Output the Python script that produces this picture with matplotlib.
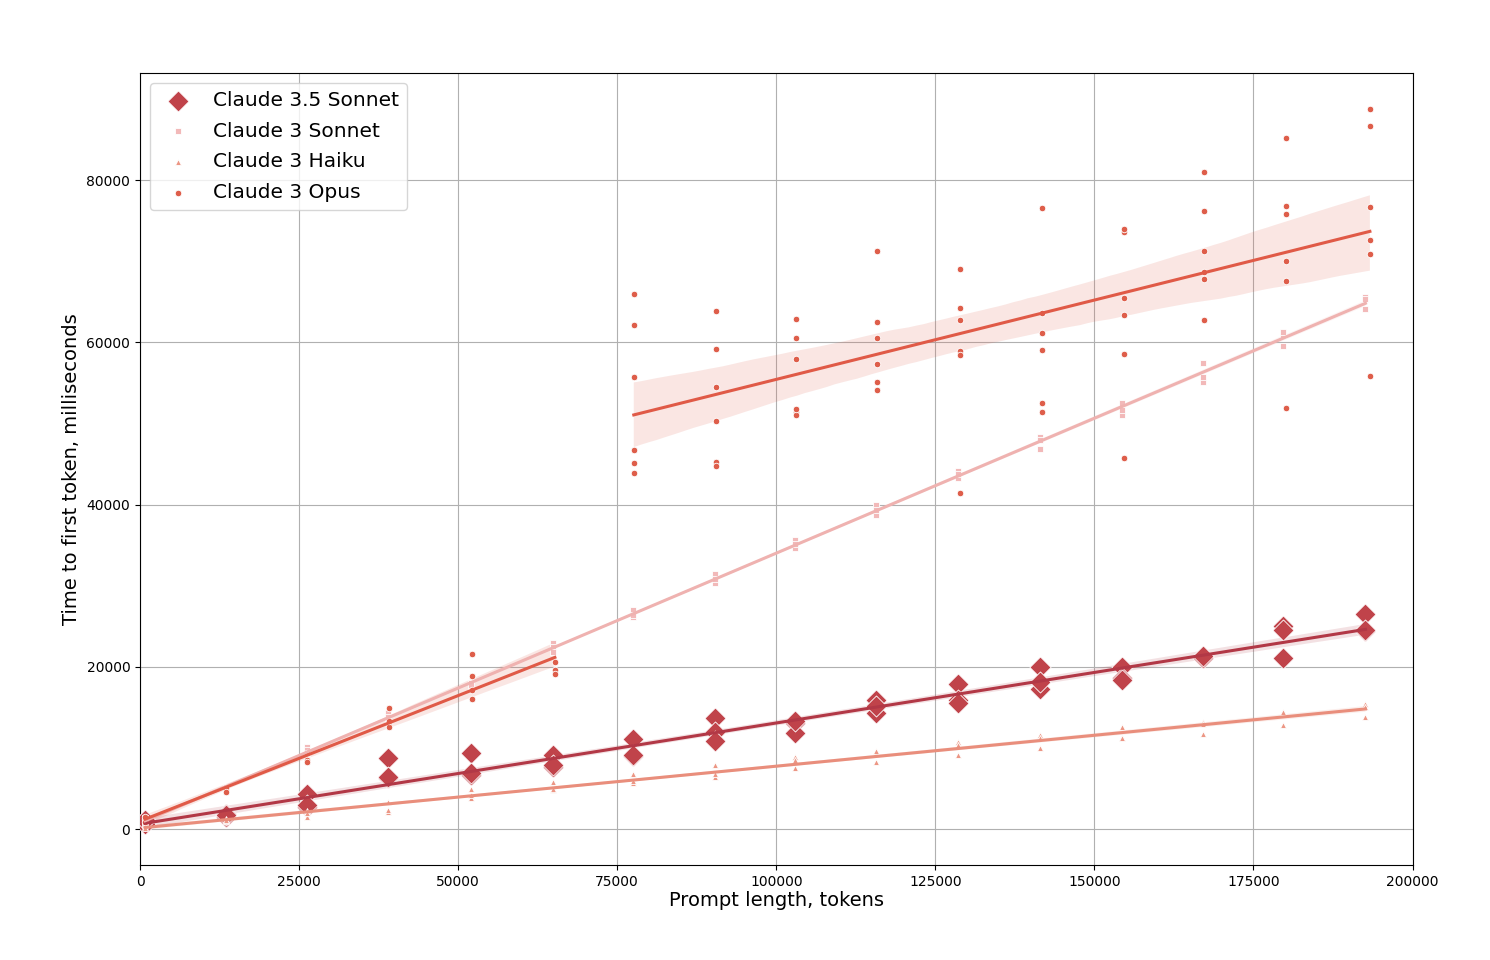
import numpy as np
import matplotlib as mpl
mpl.use('Agg')
import matplotlib.pyplot as plt
import seaborn as sns

# prompt lengths the runs were grouped at
prompt_len = [800, 13500, 26300, 38900, 52000, 64900, 77400, 90400,
              102900, 115700, 128500, 141400, 154300, 167000, 179700, 192600]

# time to first token, ms (a few runs per prompt length)
sonnet35_ms = [[1000, 700, 1200], [1500, 1900, 1700], [4400, 2700, 3000],
               [8800, 6300, 6500], [9400, 6700, 6900], [9100, 7700, 7900],
               [11100, 9000, 9200], [13700, 12000, 10900], [13100, 11900, 13300],
               [15900, 14300, 15200], [17900, 15900, 15600], [20000, 17300, 18100],
               [20000, 18600, 18400], [21200, 21100, 21300], [25100, 24600, 21100],
               [26500, 24400, 24500]]

sonnet3_ms = [[1000, 1400, 700], [4900, 5200, 5000], [10100, 9400, 9800],
              [14300, 13800, 13500], [18000, 17500, 17800], [22900, 22500, 21800],
              [27000, 26100, 26400], [31500, 30300, 30800], [35600, 34600, 35200],
              [40000, 38700, 39300], [44200, 43300, 43800], [48300, 46800, 48000],
              [52500, 51000, 51700], [57400, 55100, 55700], [60900, 59600, 61300],
              [65600, 65300, 64100]]

haiku_ms = [[300, 500, 200], [1000, 1300, 1200], [1500, 2300, 2000],
            [2100, 3300, 2400], [5000, 3900, 4200], [5800, 4800, 5000],
            [6800, 5700, 6000], [7900, 6500, 6800], [8900, 7500, 8500],
            [9400, 9600, 8300], [10700, 9100, 10400], [11600, 10000, 11200],
            [12600, 11200, 11300], [13200, 11800, 13000], [14400, 12800, 14500],
            [15400, 15100, 13800]]

opus_ms = [[1300, 900, 1500], [4800, 5100, 4600], [9400, 8500, 8300],
           [15000, 12800, 12600, 13300], [21600, 18900, 17200, 16000],
           [20600, 19600, 19100],
           [66000, 62200, 55700, 46700, 45100, 43900],
           [63900, 59200, 54500, 50300, 45300, 44800],
           [62900, 60500, 58000, 51400, 51000, 51800],
           [71200, 62500, 60500, 57300, 55100, 54100],
           [69000, 64200, 62800, 58900, 58400, 41400],
           [76600, 63600, 61200, 59000, 52500, 51400],
           [73600, 74000, 65500, 63400, 58600, 45700],
           [81000, 76200, 71300, 68700, 67800, 62800],
           [85200, 76800, 75800, 70000, 67600, 51900],
           [88800, 86700, 76700, 72600, 70900, 55900]]

# opus prompt lengths sit a little to the right of the others
opus_len = [800, 13500, 26300, 39100, 52100, 65200, 77600, 90600,
            103100, 115900, 128800, 141700, 154600, 167300, 180100, 193300]

# opus fitted separately below / above this prompt length
opus_split = 70000


def flat(xs, ys):
    x = np.concatenate([[xv] * len(yv) for xv, yv in zip(xs, ys)])
    y = np.concatenate(ys)
    return x.astype(float), np.asarray(y, dtype=float)


fig, ax = plt.subplots(figsize=(14.9, 9.6), dpi=100)
fig.subplots_adjust(left=0.094, right=0.948, top=0.924, bottom=0.099)
ax.grid(True, color='#b0b0b0', linewidth=0.8)
ax.set_axisbelow(True)

series = [
    ('Claude 3.5 Sonnet', prompt_len, sonnet35_ms, 'D', 115, '#c0434a', '#b23846'),
    ('Claude 3 Sonnet', prompt_len, sonnet3_ms, 's', 20, '#f2b9b9', '#efb2b0'),
    ('Claude 3 Haiku', prompt_len, haiku_ms, '^', 18, '#ec9684', '#e98e7c'),
    ('Claude 3 Opus', opus_len, opus_ms, 'o', 22, '#de5e4a', '#e05a47'),
]

for name, xs, ys, marker, size, col, line_col in series:
    x, y = flat(xs, ys)
    ax.scatter(x, y, marker=marker, s=size, color=col, edgecolors='white',
               linewidths=0.6, label=name, zorder=3)
    if name == 'Claude 3 Opus':
        parts = [x < opus_split, x >= opus_split]
    else:
        parts = [np.ones_like(x, dtype=bool)]
    for m in parts:
        sns.regplot(x=x[m], y=y[m], ax=ax, scatter=False, color=line_col,
                    line_kws={'linewidth': 2.2, 'zorder': 4}, seed=3)

ax.set_xlim(0, 200000)
ax.set_ylim(-4400, 93200)
ax.set_xticks(np.arange(0, 200001, 25000))
ax.set_yticks(np.arange(0, 80001, 20000))
ax.tick_params(labelsize=10)
ax.set_xlabel('Prompt length, tokens', fontsize=14, labelpad=2)
ax.set_ylabel('Time to first token, milliseconds', fontsize=14)
ax.legend(loc='upper left', fontsize=14.5, borderpad=0.4, handletextpad=0.7,
          labelspacing=0.58)

fig.savefig('out.png')
